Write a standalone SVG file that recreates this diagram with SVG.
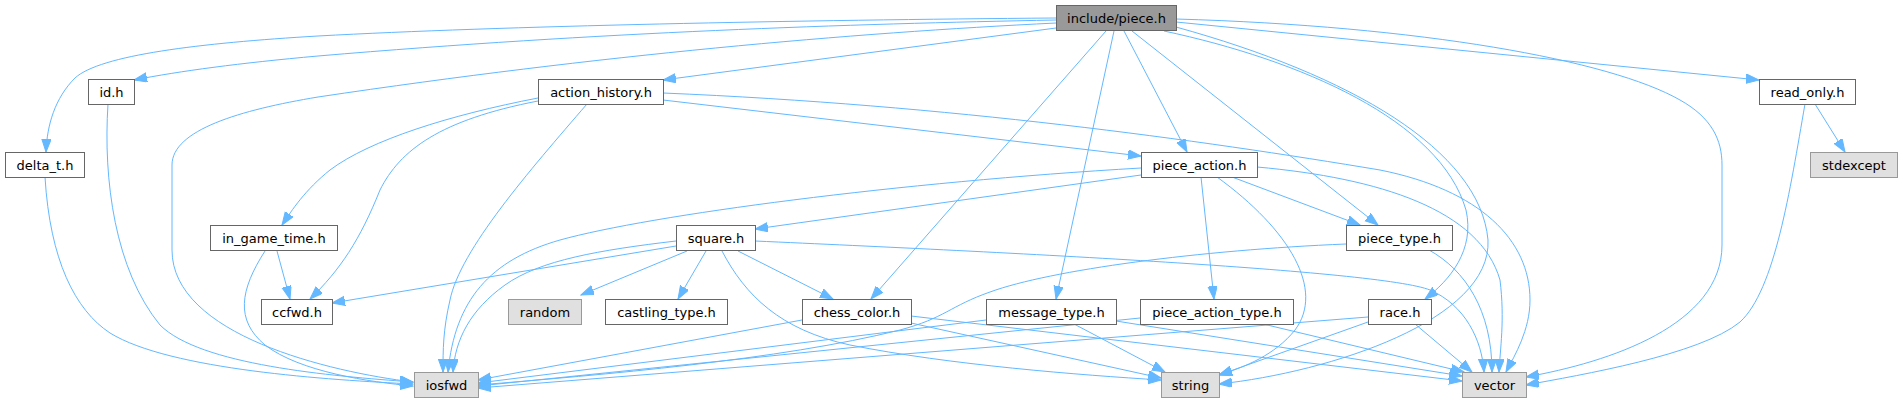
<svg xmlns="http://www.w3.org/2000/svg" width="1903" height="403" viewBox="0 0 1903 403">
<style>
.n rect{fill:#ffffff;stroke:#666666;stroke-width:1}
.root rect{fill:#999999;stroke:#666666;stroke-width:1}
.ext rect{fill:#e0e0e0;stroke:#999999;stroke-width:1}
text{font-family:"DejaVu Sans","Liberation Sans",sans-serif;font-size:13px;fill:#000000;text-anchor:middle}
#edges path{fill:none;stroke:#63b8ff;stroke-width:1;marker-end:url(#a)}
</style>
<defs>
<marker id="a" markerWidth="14" markerHeight="11" refX="13" refY="4.7" orient="auto" markerUnits="userSpaceOnUse">
<path d="M0,0 L13,4.7 L0,9.4 z" fill="#63b8ff" stroke="#63b8ff" stroke-width="1"/>
</marker>
</defs>
<rect width="1903" height="403" fill="#ffffff"/>
<g id="edges">
<path d="M1056,18 C800,20 500,26 318,36 C200,43 100,55 75,78 C55,98 47,125 46,152"/>
<path d="M1056,20 C850,24 600,32 318,56 C240,63 180,71 134,80"/>
<path d="M1056,23 C850,33 600,55 318,97 C240,110 172,130 172,165 L172,250 C172,335 330,372 413,382"/>
<path d="M1056,28 L663,80"/>
<path d="M1124,31 L1187,152"/>
<path d="M1106,31 L871,299"/>
<path d="M1114,31 L1056,299"/>
<path d="M1132,31 L1378,225"/>
<path d="M1164,31 C1300,60 1440,120 1466,210 C1475,250 1450,280 1425,299"/>
<path d="M1176,27 C1350,75 1480,150 1488,240 C1492,320 1330,372 1219,384"/>
<path d="M1176,19 C1420,26 1610,60 1680,100 C1712,118 1722,140 1722,165 L1722,245 C1722,325 1610,362 1526,377"/>
<path d="M1176,22 L1759,80"/>
<path d="M538,98 C450,115 370,140 330,170 C305,190 292,210 282,225"/>
<path d="M538,101 C440,120 400,150 380,190 C360,240 340,270 310,299"/>
<path d="M587,104 C530,170 460,250 450,300 C443,330 443,350 443,372"/>
<path d="M663,100 L1141,156"/>
<path d="M663,93 C950,105 1200,140 1380,170 C1480,190 1530,240 1530,300 C1530,330 1515,355 1506,372"/>
<path d="M1141,168 C900,182 650,215 560,240 C490,260 455,300 448,372"/>
<path d="M1141,175 L755,229"/>
<path d="M1201,177 L1214,299"/>
<path d="M1232,177 L1360,225"/>
<path d="M1217,177 C1290,230 1325,290 1295,330 C1275,355 1245,367 1219,375"/>
<path d="M1257,167 C1380,178 1480,210 1500,280 C1505,320 1500,350 1499,372"/>
<path d="M108,104 C103,180 115,270 160,325 C200,365 330,376 413,382"/>
<path d="M45,177 C50,260 75,310 110,333 C170,370 330,380 413,384"/>
<path d="M277,251 L290,299"/>
<path d="M265,251 C240,290 235,320 265,345 C300,372 370,382 413,386"/>
<path d="M676,246 L332,303"/>
<path d="M676,241 C600,250 540,260 505,285 C470,310 455,340 453,372"/>
<path d="M687,251 L581,295"/>
<path d="M706,251 L678,299"/>
<path d="M738,251 L833,299"/>
<path d="M722,251 C745,295 780,330 850,345 C950,365 1080,375 1161,380"/>
<path d="M755,241 C1000,252 1380,270 1430,290 C1465,305 1482,340 1484,372"/>
<path d="M802,320 L478,380"/>
<path d="M911,323 L1161,378"/>
<path d="M911,316 L1462,381"/>
<path d="M986,320 L478,383"/>
<path d="M1074,324 L1165,372"/>
<path d="M1116,321 L1462,376"/>
<path d="M1140,318 L478,386"/>
<path d="M1263,324 L1464,372"/>
<path d="M1346,244 C1200,250 1050,270 990,292 C950,306 945,318 900,330 C780,360 600,375 478,385"/>
<path d="M1429,250 C1465,270 1492,310 1492,372"/>
<path d="M1368,317 L478,388"/>
<path d="M1368,322 L1219,375"/>
<path d="M1415,324 L1472,372"/>
<path d="M1815,104 L1845,152"/>
<path d="M1805,104 C1790,190 1775,290 1740,322 C1700,355 1580,375 1526,385"/>
</g>
<g id="node-piece" class="root"><rect x="1056.5" y="5.5" width="120" height="25"/><text x="1116.5" y="22.5">include/piece.h</text></g>
<g id="node-delta_t" class="n"><rect x="5.5" y="152.5" width="79" height="25"/><text x="45" y="169.5">delta_t.h</text></g>
<g id="node-id" class="n"><rect x="88.5" y="79.5" width="46" height="25"/><text x="111.5" y="96.5">id.h</text></g>
<g id="node-action_history" class="n"><rect x="538.5" y="79.5" width="125" height="25"/><text x="601" y="96.5">action_history.h</text></g>
<g id="node-read_only" class="n"><rect x="1759.5" y="79.5" width="96" height="25"/><text x="1807.5" y="96.5">read_only.h</text></g>
<g id="node-piece_action" class="n"><rect x="1141.5" y="152.5" width="116" height="25"/><text x="1199.5" y="169.5">piece_action.h</text></g>
<g id="node-stdexcept" class="ext"><rect x="1810.5" y="152.5" width="87" height="25"/><text x="1854" y="169.5">stdexcept</text></g>
<g id="node-in_game_time" class="n"><rect x="210.5" y="225.5" width="127" height="25"/><text x="274" y="242.5">in_game_time.h</text></g>
<g id="node-square" class="n"><rect x="676.5" y="225.5" width="79" height="25"/><text x="716" y="242.5">square.h</text></g>
<g id="node-piece_type" class="n"><rect x="1346.5" y="225.5" width="106" height="25"/><text x="1399.5" y="242.5">piece_type.h</text></g>
<g id="node-ccfwd" class="n"><rect x="261.5" y="299.5" width="71" height="25"/><text x="297" y="316.5">ccfwd.h</text></g>
<g id="node-random" class="ext"><rect x="508.5" y="299.5" width="73" height="25"/><text x="545" y="316.5">random</text></g>
<g id="node-castling_type" class="n"><rect x="605.5" y="299.5" width="122" height="25"/><text x="666.5" y="316.5">castling_type.h</text></g>
<g id="node-chess_color" class="n"><rect x="802.5" y="299.5" width="109" height="25"/><text x="857" y="316.5">chess_color.h</text></g>
<g id="node-message_type" class="n"><rect x="986.5" y="299.5" width="130" height="25"/><text x="1051.5" y="316.5">message_type.h</text></g>
<g id="node-piece_action_type" class="n"><rect x="1140.5" y="299.5" width="153" height="25"/><text x="1217" y="316.5">piece_action_type.h</text></g>
<g id="node-race" class="n"><rect x="1368.5" y="299.5" width="63" height="25"/><text x="1400" y="316.5">race.h</text></g>
<g id="node-iosfwd" class="ext"><rect x="414.5" y="372.5" width="64" height="25"/><text x="446.5" y="389.5">iosfwd</text></g>
<g id="node-string" class="ext"><rect x="1161.5" y="372.5" width="58" height="25"/><text x="1190.5" y="389.5">string</text></g>
<g id="node-vector" class="ext"><rect x="1462.5" y="372.5" width="64" height="25"/><text x="1494.5" y="389.5">vector</text></g>
</svg>
